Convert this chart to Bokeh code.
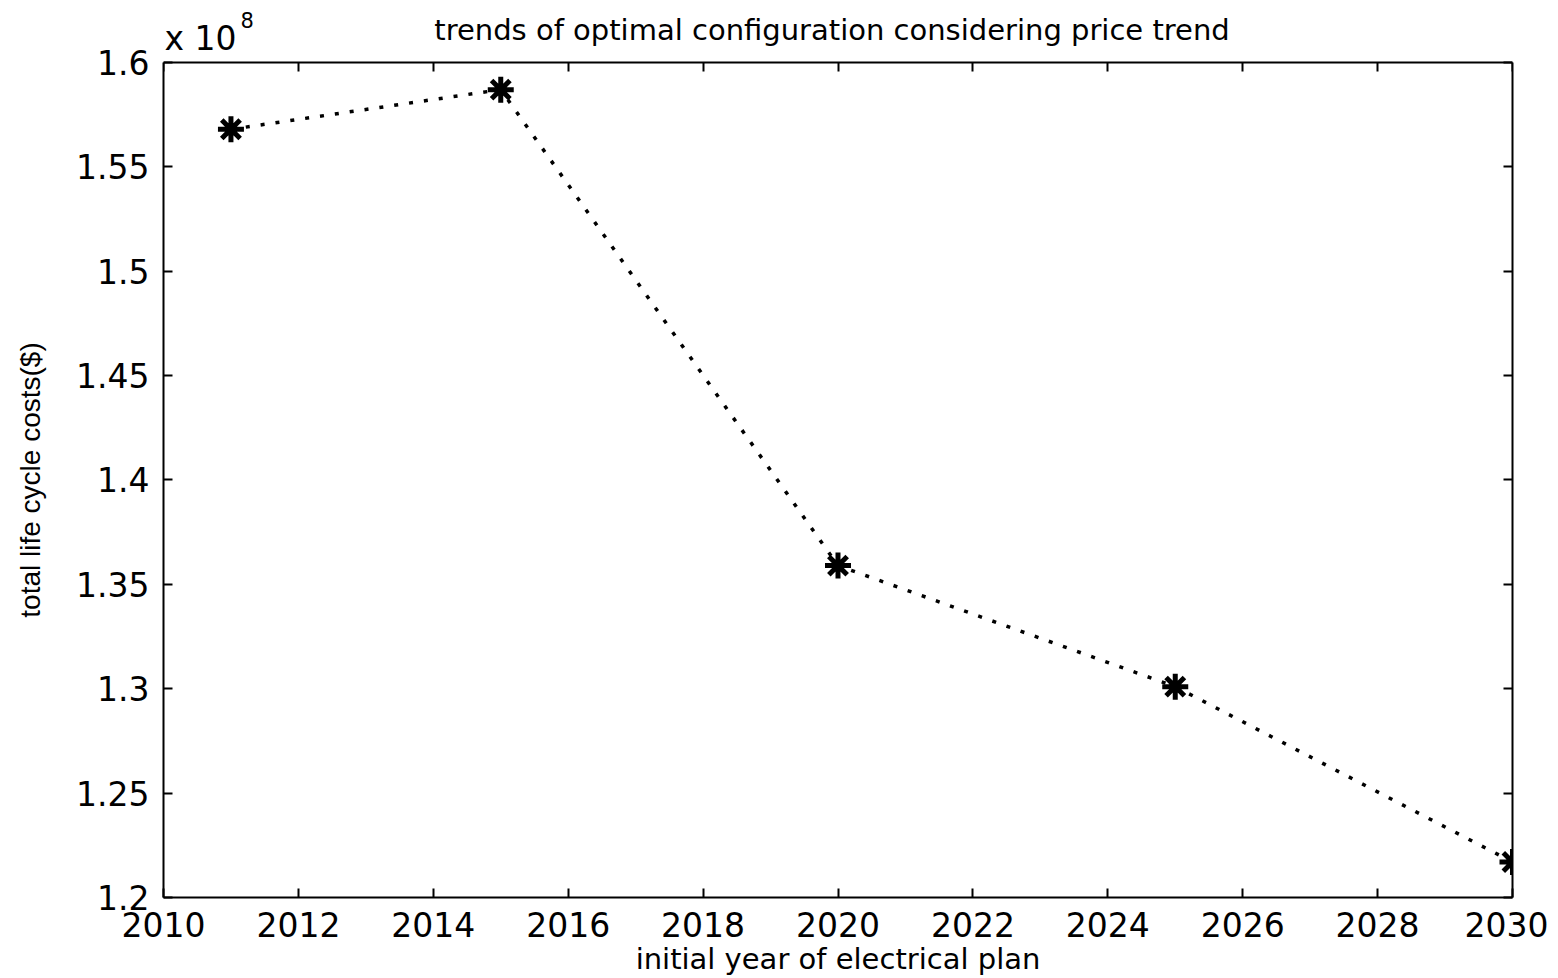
import math
from bokeh.plotting import figure
from bokeh.models import Range1d, LinearAxis, FixedTicker, Label, CustomJSTickFormatter
from bokeh.embed import file_html
from bokeh.resources import INLINE

# data (costs in units of 10^8 $)
years = [2011, 2015, 2020, 2025, 2030]
costs = [1.568, 1.587, 1.359, 1.301, 1.217]

x_ticks = [2010, 2012, 2014, 2016, 2018, 2020, 2022, 2024, 2026, 2028, 2030]
y_ticks = [1.2, 1.25, 1.3, 1.35, 1.4, 1.45, 1.5, 1.55, 1.6]
y_tick_labels = ["1.2", "1.25", "1.3", "1.35", "1.4", "1.45", "1.5", "1.55", "1.6"]

title_text = "trends of optimal configuration considering price trend"
x_label = "initial year of electrical plan"
y_label = "total life cycle costs($)"
exp_text = "x 10"
exp_power = "8"

FONT = "DejaVu Sans"
Y_MIN, Y_MAX = 1.2, 1.6
Y_TOP = 1.6297  # frame extends above the axes box to hold the title texts

p = figure(width=1548, height=978, output_backend="svg", toolbar_location=None,
           x_range=Range1d(2010, 2030), y_range=Range1d(Y_MIN, Y_TOP),
           min_border_left=163, min_border_right=36, min_border_top=0, min_border_bottom=80)

p.xgrid.visible = False
p.ygrid.visible = False
p.outline_line_color = None
p.background_fill_color = "white"
p.border_fill_color = "white"

def style_axis(ax, labels=True):
    ax.axis_line_color = "black"
    ax.axis_line_width = 2
    ax.major_tick_in = 9
    ax.major_tick_out = 0
    ax.major_tick_line_width = 2
    ax.major_tick_line_color = "black"
    ax.minor_tick_line_color = None
    ax.major_label_text_font = FONT
    ax.major_label_text_color = "black"
    if labels:
        ax.major_label_text_font_size = "33px"
        ax.major_label_standoff = 14
    else:
        ax.formatter = CustomJSTickFormatter(code="return ''")
        ax.major_label_standoff = 0

xa = p.xaxis[0]
xa.ticker = FixedTicker(ticks=x_ticks)
style_axis(xa)
xa.axis_label = x_label
xa.axis_label_text_font = FONT
xa.axis_label_text_font_size = "29px"
xa.axis_label_text_font_style = "normal"
xa.axis_label_text_color = "black"
xa.axis_label_standoff = 2

ya = p.yaxis[0]
ya.ticker = FixedTicker(ticks=y_ticks)
ya.bounds = (Y_MIN, Y_MAX)
ya.major_label_overrides = {t: s for t, s in zip(y_ticks, y_tick_labels)}
style_axis(ya)

ra = LinearAxis(ticker=FixedTicker(ticks=y_ticks), bounds=(Y_MIN, Y_MAX))
style_axis(ra, labels=False)
p.add_layout(ra, "right")
ta = LinearAxis(ticker=FixedTicker(ticks=x_ticks), fixed_location=Y_MAX)
style_axis(ta, labels=False)
p.add_layout(ta, "above")

p.line(years, costs, line_color="black", line_width=3.5, line_dash="4 11")
p.scatter(years, costs, marker="asterisk", size=26, line_width=5, line_color="black")

# y-axis label, centred on the axes box (not on the taller frame)
ylab = Label(x=2010, y=(Y_MIN + Y_MAX) / 2, x_offset=-133, text=y_label,
             angle=math.pi / 2, text_font="Liberation Sans", text_font_size="28px",
             text_color="black", text_baseline="middle", text_align="center")
p.add_layout(ylab, "left")

title_lbl = Label(x=2020, y=Y_MAX, x_offset=-6, y_offset=32, text=title_text,
                  text_font=FONT, text_font_size="29px", text_color="black",
                  text_baseline="alphabetic", text_align="center")
exp_base = Label(x=2010, y=Y_MAX, x_offset=1, y_offset=24, text=exp_text,
                 text_font=FONT, text_font_size="33px", text_color="black",
                 text_baseline="alphabetic", text_align="left")
exp_sup = Label(x=2010, y=Y_MAX, x_offset=77, y_offset=42, text=exp_power,
                text_font=FONT, text_font_size="21px", text_color="black",
                text_baseline="alphabetic", text_align="left")
p.add_layout(title_lbl)
p.add_layout(exp_base)
p.add_layout(exp_sup)

open("out.html", "w").write(file_html(p, INLINE))
